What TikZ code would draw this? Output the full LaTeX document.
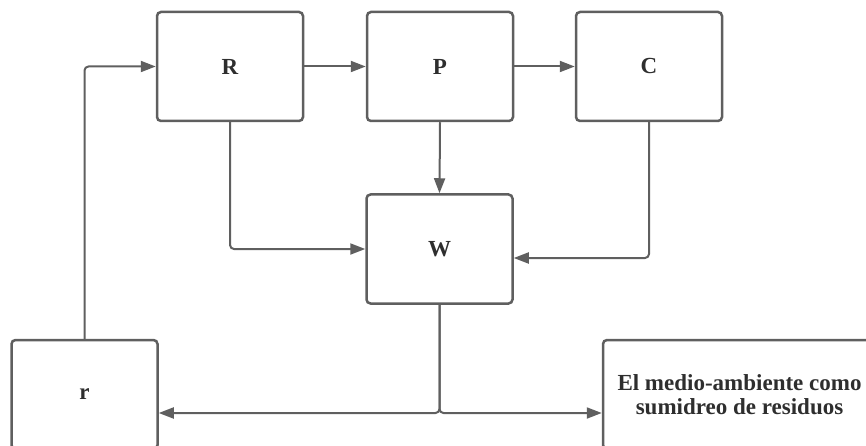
\documentclass[tikz,border=0pt]{standalone}
\usepackage{fontspec}
\setmainfont{Liberation Serif}
\usetikzlibrary{arrows.meta}
\definecolor{linegray}{HTML}{5F5F5F}
\definecolor{textgray}{HTML}{2E2E2E}
\begin{document}
\begin{tikzpicture}[x=1pt,y=-1pt,
  box/.style={draw=linegray, line width=2.5pt, rounded corners=4pt,
    minimum width=146pt, minimum height=109pt, inner sep=0pt,
    text=textgray, font=\bfseries\fontsize{23}{24}\selectfont, align=center},
  flow/.style={draw=linegray, line width=2pt, rounded corners=4pt,
    -{Triangle[length=15pt,width=11pt]}}]
\useasboundingbox (0,0) rectangle (866,446);
\clip (0,0) rectangle (866,446);

% stages of the flow
\node[box] (R) at (230,66.5) {R};
\node[box] (P) at (440,66.5) {P};
\node[box] (C) at (649,66.5) {C};
\node[box] (W) at (439.5,249) {W};
\node[box] (r) at (84.5,394.5) {r};
\node[box, minimum width=273pt] (E) at (739.5,394.5)
  {El medio-ambiente como\\sumidreo de residuos};

% level of the split below W
\coordinate (J) at (439.5,413);

% connectors
\draw[flow] (R) -- (P);
\draw[flow] (P) -- (C);
\draw[flow] (r.north) |- (R.west);
\draw[flow] (R.south) |- (W.west);
\draw[flow] (P.south) -- (W.north);
\draw[flow] (C.south) |- ([yshift=-9pt]W.east);
\draw[flow] (W.south) |- (r.east |- J);
\draw[flow] (W.south) |- (E.west |- J);
\end{tikzpicture}
\end{document}
